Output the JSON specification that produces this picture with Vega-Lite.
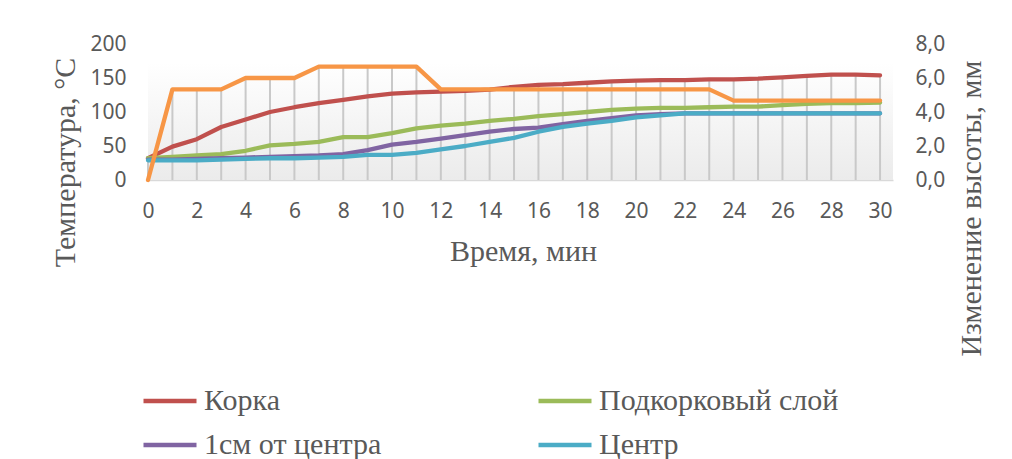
{
  "$schema": "https://vega.github.io/schema/vega-lite/v6.json",
  "autosize": "none",
  "width": 745,
  "height": 136,
  "padding": {"left": 148, "top": 44, "right": 119, "bottom": 279},
  "background": "white",
  "config": {
    "view": {"stroke": null},
    "locale": {"number": {"decimal": ",", "thousands": " ", "grouping": [3], "currency": ["", " ₽"]}},
    "axis": {
      "labelFont": "Noto Sans", "labelFontSize": 21, "labelColor": "#595959",
      "titleFont": "Liberation Serif", "titleFontSize": 30, "titleFontWeight": "normal", "titleColor": "#595959",
      "grid": false, "ticks": false, "labelOverlap": false, "labelFlush": false
    }
  },
  "datasets": {
    "temps": [
      {"t":0,"s":"Корка","v":32},{"t":1,"s":"Корка","v":49},{"t":2,"s":"Корка","v":60},{"t":3,"s":"Корка","v":78},{"t":4,"s":"Корка","v":89},{"t":5,"s":"Корка","v":100},{"t":6,"s":"Корка","v":107},{"t":7,"s":"Корка","v":113},{"t":8,"s":"Корка","v":118},{"t":9,"s":"Корка","v":123},{"t":10,"s":"Корка","v":127},{"t":11,"s":"Корка","v":129},{"t":12,"s":"Корка","v":130},{"t":13,"s":"Корка","v":131},{"t":14,"s":"Корка","v":133},{"t":15,"s":"Корка","v":137},{"t":16,"s":"Корка","v":140},{"t":17,"s":"Корка","v":141},{"t":18,"s":"Корка","v":143},{"t":19,"s":"Корка","v":145},{"t":20,"s":"Корка","v":146},{"t":21,"s":"Корка","v":147},{"t":22,"s":"Корка","v":147},{"t":23,"s":"Корка","v":148},{"t":24,"s":"Корка","v":148},{"t":25,"s":"Корка","v":149},{"t":26,"s":"Корка","v":151},{"t":27,"s":"Корка","v":153},{"t":28,"s":"Корка","v":155},{"t":29,"s":"Корка","v":155},{"t":30,"s":"Корка","v":154},
      {"t":0,"s":"Подкорковый слой","v":32},{"t":1,"s":"Подкорковый слой","v":34},{"t":2,"s":"Подкорковый слой","v":36},{"t":3,"s":"Подкорковый слой","v":38},{"t":4,"s":"Подкорковый слой","v":43},{"t":5,"s":"Подкорковый слой","v":51},{"t":6,"s":"Подкорковый слой","v":53},{"t":7,"s":"Подкорковый слой","v":56},{"t":8,"s":"Подкорковый слой","v":63},{"t":9,"s":"Подкорковый слой","v":63},{"t":10,"s":"Подкорковый слой","v":69},{"t":11,"s":"Подкорковый слой","v":76},{"t":12,"s":"Подкорковый слой","v":80},{"t":13,"s":"Подкорковый слой","v":83},{"t":14,"s":"Подкорковый слой","v":87},{"t":15,"s":"Подкорковый слой","v":90},{"t":16,"s":"Подкорковый слой","v":94},{"t":17,"s":"Подкорковый слой","v":97},{"t":18,"s":"Подкорковый слой","v":100},{"t":19,"s":"Подкорковый слой","v":103},{"t":20,"s":"Подкорковый слой","v":105},{"t":21,"s":"Подкорковый слой","v":106},{"t":22,"s":"Подкорковый слой","v":106},{"t":23,"s":"Подкорковый слой","v":107},{"t":24,"s":"Подкорковый слой","v":108},{"t":25,"s":"Подкорковый слой","v":108},{"t":26,"s":"Подкорковый слой","v":110},{"t":27,"s":"Подкорковый слой","v":112},{"t":28,"s":"Подкорковый слой","v":113},{"t":29,"s":"Подкорковый слой","v":113},{"t":30,"s":"Подкорковый слой","v":114},
      {"t":0,"s":"1см от центра","v":30},{"t":1,"s":"1см от центра","v":30},{"t":2,"s":"1см от центра","v":31},{"t":3,"s":"1см от центра","v":32},{"t":4,"s":"1см от центра","v":33},{"t":5,"s":"1см от центра","v":34},{"t":6,"s":"1см от центра","v":35},{"t":7,"s":"1см от центра","v":36},{"t":8,"s":"1см от центра","v":38},{"t":9,"s":"1см от центра","v":44},{"t":10,"s":"1см от центра","v":52},{"t":11,"s":"1см от центра","v":56},{"t":12,"s":"1см от центра","v":61},{"t":13,"s":"1см от центра","v":66},{"t":14,"s":"1см от центра","v":71},{"t":15,"s":"1см от центра","v":75},{"t":16,"s":"1см от центра","v":77},{"t":17,"s":"1см от центра","v":82},{"t":18,"s":"1см от центра","v":87},{"t":19,"s":"1см от центра","v":91},{"t":20,"s":"1см от центра","v":95},{"t":21,"s":"1см от центра","v":97},{"t":22,"s":"1см от центра","v":98},{"t":23,"s":"1см от центра","v":98},{"t":24,"s":"1см от центра","v":98},{"t":25,"s":"1см от центра","v":98},{"t":26,"s":"1см от центра","v":98},{"t":27,"s":"1см от центра","v":98},{"t":28,"s":"1см от центра","v":98},{"t":29,"s":"1см от центра","v":98},{"t":30,"s":"1см от центра","v":98},
      {"t":0,"s":"Центр","v":29},{"t":1,"s":"Центр","v":29},{"t":2,"s":"Центр","v":29},{"t":3,"s":"Центр","v":30},{"t":4,"s":"Центр","v":31},{"t":5,"s":"Центр","v":32},{"t":6,"s":"Центр","v":32},{"t":7,"s":"Центр","v":33},{"t":8,"s":"Центр","v":34},{"t":9,"s":"Центр","v":37},{"t":10,"s":"Центр","v":37},{"t":11,"s":"Центр","v":40},{"t":12,"s":"Центр","v":45},{"t":13,"s":"Центр","v":50},{"t":14,"s":"Центр","v":56},{"t":15,"s":"Центр","v":62},{"t":16,"s":"Центр","v":71},{"t":17,"s":"Центр","v":78},{"t":18,"s":"Центр","v":83},{"t":19,"s":"Центр","v":87},{"t":20,"s":"Центр","v":92},{"t":21,"s":"Центр","v":95},{"t":22,"s":"Центр","v":98},{"t":23,"s":"Центр","v":98},{"t":24,"s":"Центр","v":98},{"t":25,"s":"Центр","v":98},{"t":26,"s":"Центр","v":98},{"t":27,"s":"Центр","v":98},{"t":28,"s":"Центр","v":98},{"t":29,"s":"Центр","v":98},{"t":30,"s":"Центр","v":98}
    ],
    "height": [
      {"t":0,"h":0},{"t":1,"h":5.33},{"t":2,"h":5.33},{"t":3,"h":5.33},{"t":4,"h":6.0},{"t":5,"h":6.0},{"t":6,"h":6.0},{"t":7,"h":6.67},{"t":8,"h":6.67},{"t":9,"h":6.67},{"t":10,"h":6.67},{"t":11,"h":6.67},{"t":12,"h":5.33},{"t":13,"h":5.33},{"t":14,"h":5.33},{"t":15,"h":5.33},{"t":16,"h":5.33},{"t":17,"h":5.33},{"t":18,"h":5.33},{"t":19,"h":5.33},{"t":20,"h":5.33},{"t":21,"h":5.33},{"t":22,"h":5.33},{"t":23,"h":5.33},{"t":24,"h":4.67},{"t":25,"h":4.67},{"t":26,"h":4.67},{"t":27,"h":4.67},{"t":28,"h":4.67},{"t":29,"h":4.67},{"t":30,"h":4.67}
    ],
    "drops": [
      {"t":0,"top":32},{"t":1,"top":133},{"t":2,"top":133},{"t":3,"top":133},{"t":4,"top":150},{"t":5,"top":150},{"t":6,"top":150},{"t":7,"top":167},{"t":8,"top":167},{"t":9,"top":167},{"t":10,"top":167},{"t":11,"top":167},{"t":12,"top":133},{"t":13,"top":133},{"t":14,"top":134},{"t":15,"top":137},{"t":16,"top":140},{"t":17,"top":141},{"t":18,"top":143},{"t":19,"top":145},{"t":20,"top":146},{"t":21,"top":147},{"t":22,"top":147},{"t":23,"top":148},{"t":24,"top":148},{"t":25,"top":149},{"t":26,"top":151},{"t":27,"top":153},{"t":28,"top":155},{"t":29,"top":155},{"t":30,"top":154}
    ]
  },
  "layer": [
    {
      "layer": [
        {
          "data": {"values": [{}]},
          "mark": {"type": "rect", "fill": {"gradient": "linear", "x1": 0, "y1": 0, "x2": 0, "y2": 1, "stops": [{"offset": 0, "color": "#ffffff"}, {"offset": 1, "color": "#ebebeb"}]}},
          "encoding": {
            "x": {"datum": 0, "type": "quantitative", "scale": {"domain": [0, 30.53], "nice": false, "zero": false}},
            "x2": {"datum": 30.53},
            "y": {"datum": 172, "type": "quantitative", "scale": {"domain": [0, 200], "nice": false},
              "axis": {"orient": "left", "values": [0,50,100,150,200], "tickCount": 10, "labelOverlap": false, "domain": false, "labelPadding": 22, "labelBaseline": "middle", "title": "Температура, °С", "titleAngle": -90, "titleBaseline": "middle", "titleAlign": "center", "titleX": -83, "titleY": 118}},
            "y2": {"datum": 0}
          }
        },
        {
          "data": {"name": "drops"},
          "mark": {"type": "rule", "stroke": "#c9c9c9", "strokeWidth": 2},
          "encoding": {
            "x": {"field": "t", "type": "quantitative"},
            "y": {"field": "top", "type": "quantitative"},
            "y2": {"datum": 0}
          }
        },
        {
          "data": {"name": "temps"},
          "mark": {"type": "line", "strokeWidth": 4.3, "strokeCap": "round", "strokeJoin": "round"},
          "encoding": {
            "x": {"field": "t", "type": "quantitative", "title": "Время, мин",
              "axis": {"values": [0,2,4,6,8,10,12,14,16,18,20,22,24,26,28,30], "tickCount": 40, "labelPadding": 20, "domain": true, "domainColor": "#d9d9d9", "domainWidth": 1.5, "titleBaseline": "middle", "titleX": 375, "titleY": 71}},
            "y": {"field": "v", "type": "quantitative", "title": "Температура, °С"},
            "color": {"field": "s", "type": "nominal", "sort": ["Корка", "Подкорковый слой", "1см от центра", "Центр"],
              "scale": {"domain": ["Корка", "Подкорковый слой", "1см от центра", "Центр"], "range": ["#c0504d", "#9bbb59", "#8064a2", "#4bacc6"]},
              "legend": {"title": null, "orient": "none", "legendX": -7, "legendY": 328, "columns": 2, "direction": "horizontal",
                "symbolType": "stroke", "symbolSize": 2809, "symbolStrokeWidth": 4.5,
                "labelFont": "Liberation Serif", "labelFontSize": 30, "labelColor": "#595959", "labelLimit": 0, "labelOffset": 5, "labelBaseline": "middle",
                "columnPadding": 147, "rowPadding": -14}}
          }
        }
      ]
    },
    {
      "data": {"name": "height"},
      "mark": {"type": "line", "color": "#f79646", "strokeWidth": 4.3, "strokeCap": "round", "strokeJoin": "round"},
      "encoding": {
        "x": {"field": "t", "type": "quantitative"},
        "y": {"field": "h", "type": "quantitative", "title": "Изменение высоты, мм",
          "scale": {"domain": [0, 8], "nice": false},
          "axis": {"orient": "right", "values": [0,2,4,6,8], "tickCount": 10, "format": ".1f", "domain": false, "labelPadding": 22, "labelBaseline": "middle", "titleAngle": -90, "titleBaseline": "middle", "titleAlign": "center", "titleX": 78, "titleY": 164}}
      }
    }
  ],
  "resolve": {"scale": {"y": "independent"}}
}
